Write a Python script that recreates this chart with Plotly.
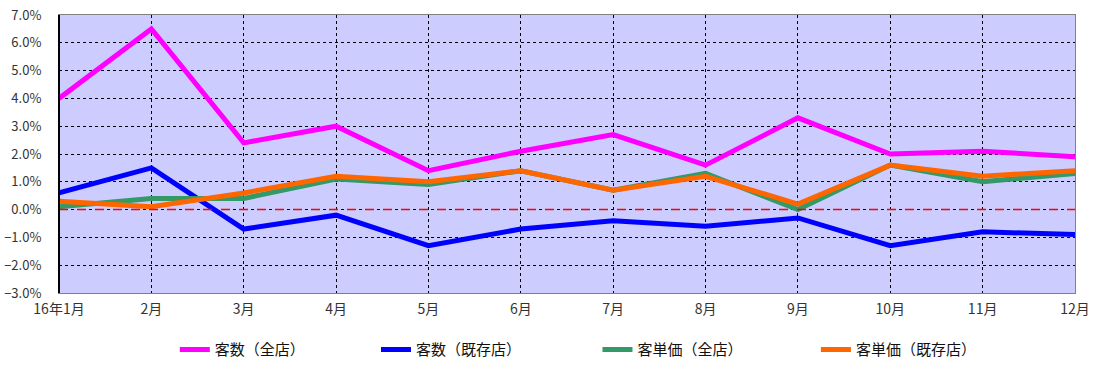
import plotly.graph_objects as go

months = ["16年1月", "2月", "3月", "4月", "5月", "6月", "7月", "8月", "9月", "10月", "11月", "12月"]
customers_all = [4.0, 6.5, 2.4, 3.0, 1.4, 2.1, 2.7, 1.6, 3.3, 2.0, 2.1, 1.9]
customers_existing = [0.6, 1.5, -0.7, -0.2, -1.3, -0.7, -0.4, -0.6, -0.3, -1.3, -0.8, -0.9]
unit_price_all = [0.1, 0.4, 0.4, 1.1, 0.9, 1.4, 0.7, 1.3, 0.0, 1.6, 1.0, 1.3]
unit_price_existing = [0.3, 0.1, 0.6, 1.2, 1.0, 1.4, 0.7, 1.2, 0.2, 1.6, 1.2, 1.4]
series_names = ["客数（全店）", "客数（既存店）", "客単価（全店）", "客単価（既存店）"]
series_colors = ["#FF00FF", "#0000FF", "#339966", "#FF6600"]
y_ticks = [-3, -2, -1, 0, 1, 2, 3, 4, 5, 6, 7]

legend_ids = ["legend", "legend2", "legend3", "legend4"]
legend_x = [0.114, 0.312, 0.530, 0.745]

x = list(range(len(months)))
fig = go.Figure()
for name, vals, col, lid in zip(series_names,
                                [customers_all, customers_existing, unit_price_all, unit_price_existing],
                                series_colors, legend_ids):
    fig.add_trace(go.Scatter(x=x, y=vals, name=name, mode="lines", legend=lid,
                             line=dict(color=col, width=5)))

fig.add_shape(type="line", xref="paper", yref="y", x0=0, x1=1, y0=0, y1=0,
              line=dict(color="#FF0000", width=1.5, dash="dash"), layer="above")

font_family = "Noto Sans CJK JP, DejaVu Sans, sans-serif"
legend_common = dict(orientation="h", xanchor="left", y=-0.145, yanchor="top",
                     font=dict(size=15, color="#111111"), itemwidth=30,
                     bgcolor="rgba(0,0,0,0)")
legends = {lid: dict(legend_common, x=lx) for lid, lx in zip(legend_ids, legend_x)}

fig.update_layout(
    width=1103, height=379,
    margin=dict(l=59, r=28, t=15, b=86),
    paper_bgcolor="white",
    plot_bgcolor="#CCCCFF",
    font=dict(family=font_family, size=13, color="#333333"),
    showlegend=True,
    xaxis=dict(range=[0, 11], tickvals=x, ticktext=months, showgrid=True,
               gridcolor="black", griddash="dot", gridwidth=1,
               showline=True, linecolor="#808080", linewidth=1, mirror=True,
               ticks="", zeroline=False, automargin=False, ticklabelstandoff=3,
               ticklabeloverflow="allow",
               tickfont=dict(size=14, color="#333333")),
    yaxis=dict(range=[-3, 7], tickvals=y_ticks,
               ticktext=[("−" if v < 0 else "") + f"{abs(v):.1f}%" for v in y_ticks],
               showgrid=True, gridcolor="black", griddash="dot", gridwidth=1,
               showline=True, linecolor="#808080", linewidth=1, mirror=True,
               ticks="", zeroline=False, automargin=False, ticklabelstandoff=14,
               ticklabeloverflow="allow",
               tickfont=dict(size=13, color="#333333")),
    **legends,
)
fig.add_shape(type="line", xref="paper", yref="paper", x0=0, x1=0, y0=0, y1=1,
              line=dict(color="black", width=2), layer="above")

fig.write_html("out.html", config={"displayModeBar": False},
               post_script="document.body.style.margin='0';")
